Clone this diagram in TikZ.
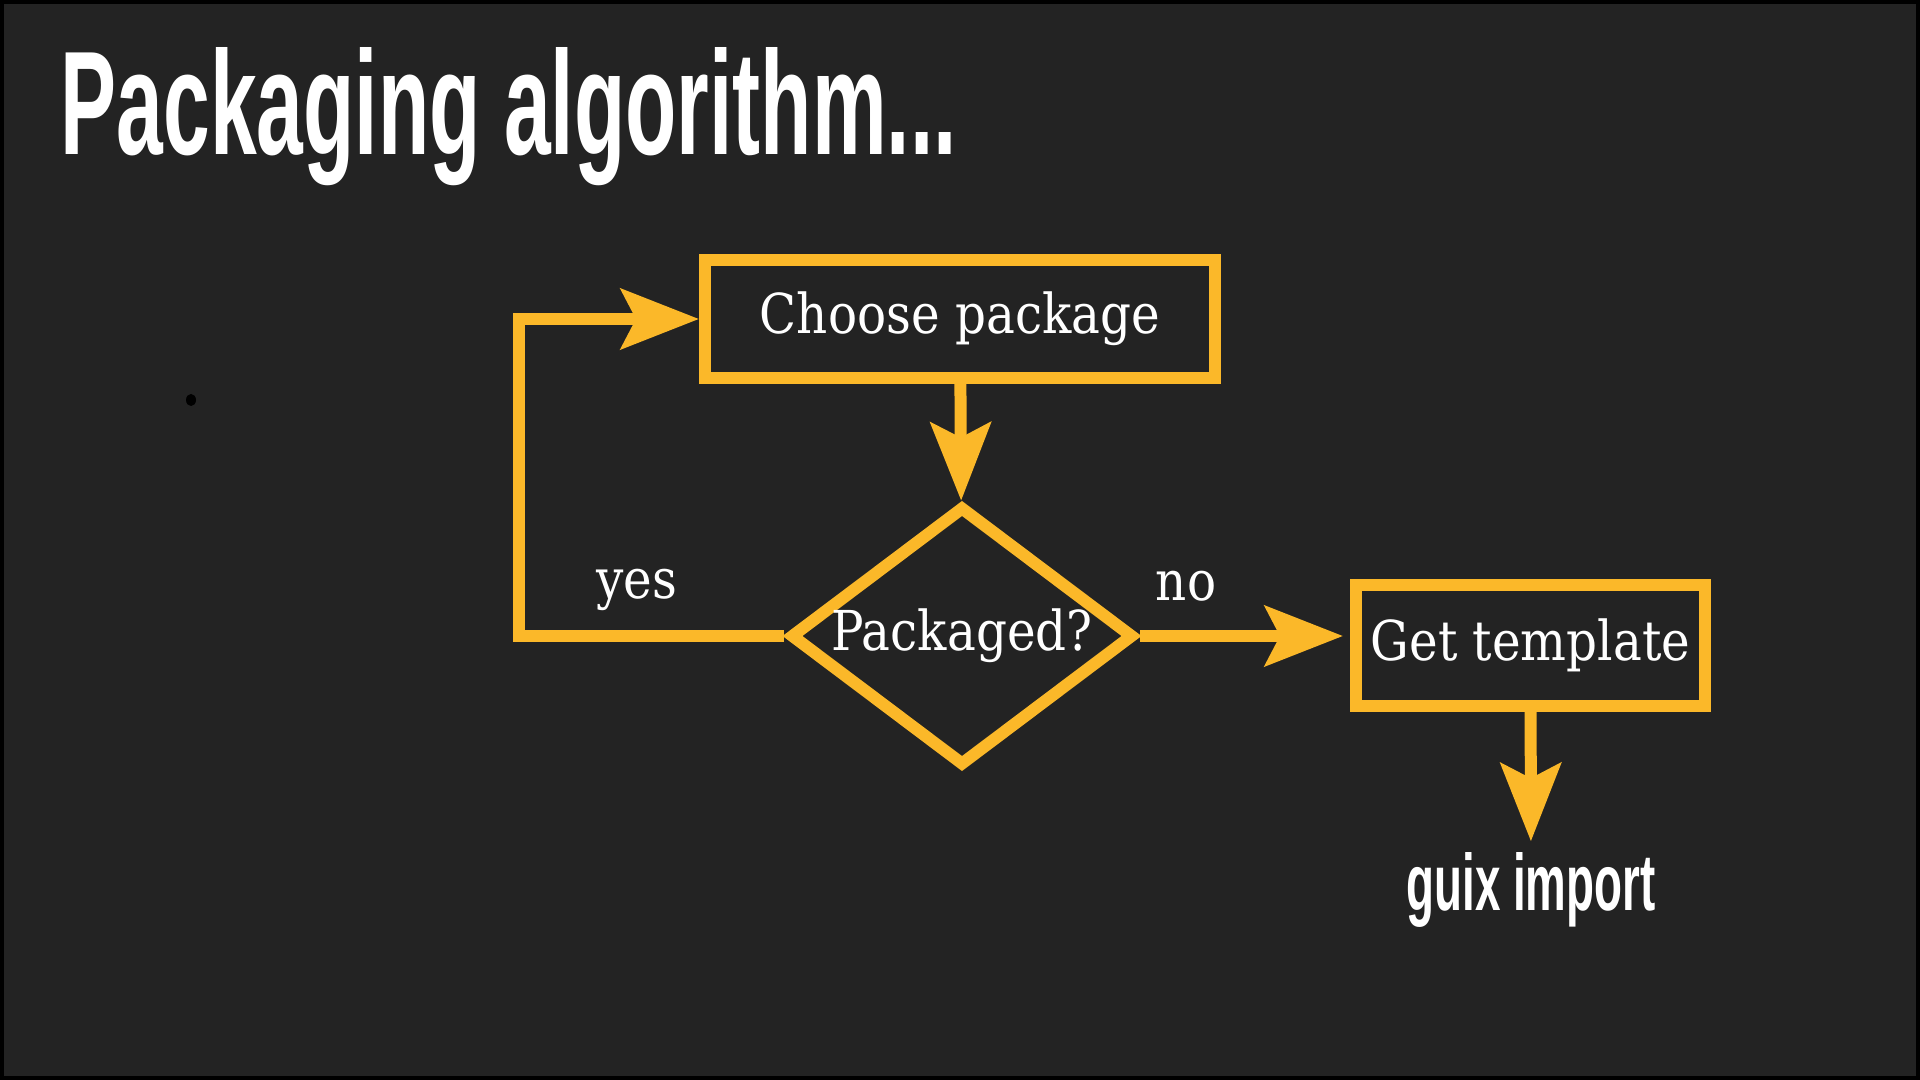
\documentclass[tikz,border=0pt]{standalone}
\usepackage{fontspec}
\setmainfont[FakeStretch=0.88]{DejaVu Serif}
\newfontfamily\headfont{Liberation Sans}
\usepackage{graphicx}
\usetikzlibrary{arrows.meta}
\usetikzlibrary{shapes.geometric}
\definecolor{slide}{HTML}{232323}
\definecolor{marker}{HTML}{FBB829}
\tikzset{>={Stealth[length=0.78cm,width=0.6cm,inset=0.15cm]}}
\tikzset{block/.style = {shape=rectangle, draw=marker, line width=0.12cm,
text=white, inner sep=0pt},
decision/.style = {shape=diamond, draw=marker, line width=0.12cm,
aspect=1.32, inner sep=0pt, text=white},
flow/.style = {->, draw=marker, line width=0.12cm},
answer/.style = {text=white, inner sep=0pt, anchor=base},
heading/.style = {text=white, inner sep=0pt, anchor=base west}}

\begin{document}
\begin{tikzpicture}[font=\fontsize{15.65pt}{18pt}\selectfont]
                \useasboundingbox (0,0) rectangle (19.2,-10.8);
                \fill[slide] (0,0) rectangle (19.2,-10.8);
                \draw[black, line width=0.04cm] (0.02,-0.02) rectangle (19.18,-10.78);
                \fill[black] (1.91,-4.00) ellipse (0.05 and 0.06);

                \node[heading] (title) at (0.60,-1.55) {\resizebox{8.96cm}{1.07cm}{\headfont\bfseries Packaging algorithm...}};

                \node[block, minimum width=5.10cm, minimum height=1.18cm] (choose) at (9.60,-3.19) {Choose package};
                \node[decision, minimum width=3.44cm, minimum height=2.60cm] (pkg) at (9.62,-6.36) {Packaged?};
                \node[block, minimum width=3.49cm, minimum height=1.21cm] (get) at (15.305,-6.455) {Get template};
                \node[text=white, inner sep=0.1cm, anchor=base] (guix) at (15.31,-9.10) {\resizebox{2.49cm}{0.58cm}{\headfont\bfseries guix import}};

                \node[answer] (yes) at (6.365,-5.98) {yes};
                \node[answer] (no) at (11.86,-6.00) {no};

                \coordinate (back) at (5.19,-6.36);

                \draw[flow] (choose) to (pkg);
                \draw[flow] (pkg.west) -- (back) |- (choose.west);
                \draw[flow, shorten >=0.07cm] (pkg.east) -- (pkg.east -| get.west);
                \draw[flow] (get) to (guix);
            \end{tikzpicture}
\end{document}
